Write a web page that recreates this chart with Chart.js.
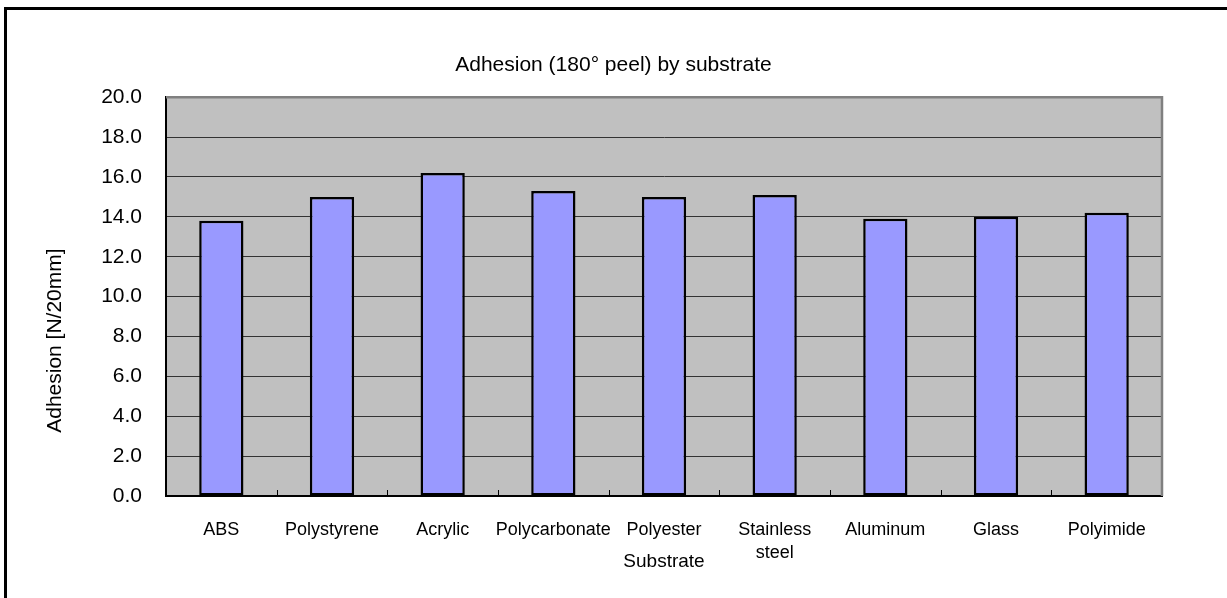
<!DOCTYPE html>
<html>
<head>
<meta charset="utf-8">
<script src="https://cdn.jsdelivr.net/npm/chart.js@4"></script>
<style>
  html, body { margin: 0; padding: 0; background: #fff; overflow: hidden; }
  #frame {
    position: absolute; left: 4px; top: 7px; width: 1300px; height: 700px;
    border: 3px solid #000; box-sizing: border-box;
  }
  #wrap { position: absolute; left: 0; top: 0; width: 1227px; height: 598px; }
</style>
</head>
<body>
<div id="frame"></div>
<div id="wrap"><canvas id="chart" width="1227" height="598"></canvas></div>
<script>
// Chart data
const substrates = ["ABS", "Polystyrene", "Acrylic", "Polycarbonate", "Polyester", ["Stainless", "steel"], "Aluminum", "Glass", "Polyimide"];
const adhesion = [13.8, 15.0, 16.2, 15.3, 15.0, 15.1, 13.9, 14.0, 14.2];
const yMin = 0;
const yMax = 20;
const yStep = 2;

const FONT = "Arial, 'Liberation Sans', sans-serif";

// Grey plot background
const plotBackground = {
  id: "plotBackground",
  beforeDraw(chart) {
    const { ctx, chartArea: a } = chart;
    ctx.save();
    ctx.fillStyle = "#C0C0C0";
    ctx.fillRect(a.left, a.top, a.right - a.left, a.bottom - a.top);
    ctx.restore();
  },
};

// Grey top/right plot border, inward tick marks between categories, y axis title
const plotDecor = {
  id: "plotDecor",
  afterDraw(chart) {
    const { ctx, chartArea: a } = chart;
    const x = chart.scales.x;
    ctx.save();
    ctx.strokeStyle = "#808080";
    ctx.lineWidth = 2.5;
    ctx.beginPath();
    ctx.moveTo(a.left, a.top);
    ctx.lineTo(a.right, a.top);
    ctx.lineTo(a.right, a.bottom);
    ctx.stroke();

    ctx.strokeStyle = "#000";
    ctx.lineWidth = 1;
    ctx.beginPath();
    for (let i = 1; i < substrates.length; i++) {
      const px = Math.round((x.getPixelForValue(i - 1) + x.getPixelForValue(i)) / 2) + 0.5;
      ctx.moveTo(px, a.bottom);
      ctx.lineTo(px, a.bottom - 6);
    }
    ctx.stroke();

    // y axis title
    ctx.translate(55, (a.top + a.bottom) / 2 + 44);
    ctx.rotate(-Math.PI / 2);
    ctx.font = "21px " + FONT;
    ctx.fillStyle = "#000";
    ctx.textAlign = "center";
    ctx.textBaseline = "middle";
    ctx.fillText("Adhesion [N/20mm]", 0, 0);
    ctx.restore();
  },
};

new Chart(document.getElementById("chart").getContext("2d"), {
  type: "bar",
  data: {
    labels: substrates,
    datasets: [
      {
        label: "Adhesion",
        data: adhesion,
        backgroundColor: "#9999FF",
        borderColor: "#000",
        borderWidth: 2.5,
        borderSkipped: false,
        barPercentage: 0.4,
        categoryPercentage: 1.0,
      },
    ],
  },
  options: {
    responsive: false,
    animation: false,
    devicePixelRatio: 1,
    layout: { padding: 0 },
    plugins: {
      legend: { display: false },
      tooltip: { enabled: false },
      title: {
        display: true,
        text: "Adhesion (180° peel) by substrate",
        color: "#000",
        font: { family: FONT, size: 21, weight: "normal" },
        padding: { top: 53, bottom: 19 },
      },
    },
    scales: {
      x: {
        grid: { display: false },
        border: { color: "#000", width: 2 },
        ticks: {
          color: "#000",
          font: { family: FONT, size: 18, lineHeight: 1.25 },
          padding: 15,
          maxRotation: 0,
          autoSkip: false,
        },
        title: {
          display: true,
          text: "Substrate",
          color: "#000",
          font: { family: FONT, size: 19 },
          padding: { top: 0, bottom: 25 },
        },
        afterFit(scale) {
          scale.height = 102;
        },
      },
      y: {
        min: yMin,
        max: yMax,
        grid: { color: "#333", lineWidth: 1, drawTicks: false },
        border: { color: "#000", width: 2 },
        ticks: {
          stepSize: yStep,
          color: "#000",
          font: { family: FONT, size: 21 },
          padding: 24,
          callback: (v) => v.toFixed(1),
        },
        afterFit(scale) {
          scale.width = 166;
        },
      },
      yRight: {
        position: "right",
        grid: { display: false, drawTicks: false },
        border: { display: false },
        ticks: { display: false },
        afterFit(scale) {
          scale.width = 65;
        },
      },
    },
  },
  plugins: [plotBackground, plotDecor],
});
</script>
</body>
</html>
